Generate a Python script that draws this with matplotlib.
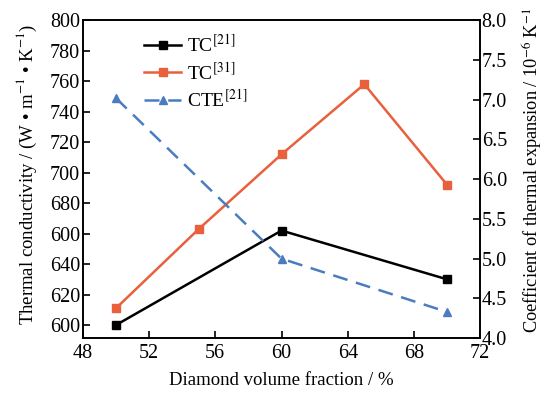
import matplotlib
matplotlib.use('Agg')
import matplotlib.pyplot as plt

plt.rcParams['font.family'] = ['Liberation Serif', 'DejaVu Serif']
plt.rcParams['mathtext.fontset'] = 'stix'

# data
x_tc21 = [50, 60, 70]
tc21 = [600, 662, 630]
x_tc31 = [50, 55, 60, 65, 70]
tc31 = [611, 663, 712, 758, 692]
x_cte21 = [50, 60, 70]
cte21 = [7.02, 5.0, 4.33]

left_ticks = [600, 620, 640, 660, 680, 700, 720, 740, 760, 780, 800]
left_ticklabels = ['600', '620', '640', '600', '680', '700', '720', '740', '760', '780', '800']
right_ticks = [4.0, 4.5, 5.0, 5.5, 6.0, 6.5, 7.0, 7.5, 8.0]
x_ticks = [48, 52, 56, 60, 64, 68, 72]

fig = plt.figure(figsize=(5.52, 3.96), dpi=100)
ax = fig.add_axes([0.150, 0.146, 0.720, 0.803])
ax2 = ax.twinx()

red = '#e8603c'
blue = '#4a7cc0'

l1, = ax.plot(x_tc21, tc21, color='black', marker='s', markersize=6, linewidth=1.8,
              label='TC$^{[21]}$')
l2, = ax.plot(x_tc31, tc31, color=red, marker='s', markersize=6, linewidth=1.8,
              label='TC$^{[31]}$')
l3, = ax2.plot(x_cte21, cte21, color=blue, marker='^', markersize=6, linewidth=1.8,
               linestyle=(0, (6, 3.5)), label='CTE$^{[21]}$')

ax.set_xlim(48, 72)
ax.set_ylim(591.4, 800)
ax2.set_ylim(4.0, 8.0)

ax.set_xticks(x_ticks)
ax.set_yticks(left_ticks)
ax.set_yticklabels(left_ticklabels)
ax2.set_yticks(right_ticks)
ax2.set_yticklabels([f'{v:.1f}' for v in right_ticks])

ax.tick_params(axis='both', direction='in', labelsize=14.5, length=5, width=1.2)
ax2.tick_params(axis='y', direction='in', labelsize=14.5, length=5, width=1.2, pad=1)
ax.tick_params(axis='x', pad=4)
ax.tick_params(axis='y', pad=2)
for a in (ax, ax2):
    for s in a.spines.values():
        s.set_linewidth(1.2)

ax.set_xlabel('Diamond volume fraction / %', fontsize=13.5, labelpad=7)
fig.text(27 / 552, 1 - 174 / 396, 'Thermal conductivity / (W \u2022 m$^{-1}$ \u2022 K$^{-1}$)',
         rotation=90, ha='center', va='center', fontsize=13.5)
fig.text(533 / 552, 1 - 170 / 396, 'Coefficient of thermal expansion / 10$^{-6}$ K$^{-1}$',
         rotation=90, ha='center', va='center', fontsize=13.2)

ax.legend(handles=[l1, l2, l3], loc='upper left', bbox_to_anchor=(0.125, 0.995),
          frameon=False, fontsize=14, handlelength=1.9, handletextpad=0.3,
          labelspacing=0.3, borderaxespad=0.2)

plt.savefig('out.png', dpi=100)
plt.close()
